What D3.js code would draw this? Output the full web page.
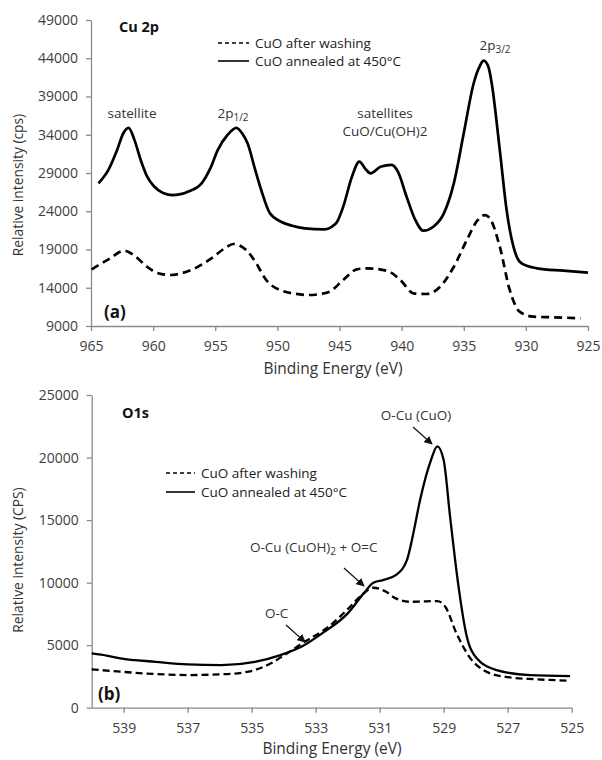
<!DOCTYPE html>
<html>
<head>
<meta charset="utf-8">
<script src="https://cdn.jsdelivr.net/npm/d3@7"></script>
<style>
  html, body { margin: 0; padding: 0; background: #fff; }
  svg { display: block; font-family: "Open Sans", "Noto Sans", sans-serif; }
</style>
</head>
<body>
<svg id="chart" width="602" height="760"></svg>
<script>
// ---------- Panel (a): Cu 2p ----------
const cu2pXTicks = [965, 960, 955, 950, 945, 940, 935, 930, 925];
const cu2pYTicks = [9000, 14000, 19000, 24000, 29000, 34000, 39000, 44000, 49000];

const cu2pAnnealedE = [964.4, 963.6, 962.9, 962.4, 961.97, 961.5, 961.0, 960.5, 959.9, 959.2, 958.4, 957.6, 957.2, 956.1, 955.4, 954.8, 954.0, 953.3, 952.8, 952.4, 951.8, 951.3, 950.6, 949.7, 948.8, 947.8, 946.2, 945.6, 945.2, 944.7, 944.0, 943.4, 942.9, 942.5, 941.7, 940.8, 940.3, 939.6, 938.9, 938.25, 937.45, 936.6, 935.8, 935.0, 934.2, 933.7, 933.4, 933.0, 932.75, 932.1, 931.55, 931.0, 930.5, 929.8, 929.1, 927.0, 925.0];
const cu2pAnnealedI = [27650, 29400, 32000, 34200, 34900, 33300, 30700, 28600, 27200, 26400, 26120, 26300, 26560, 27650, 29600, 32000, 34000, 34900, 34100, 32880, 29500, 26780, 23730, 22630, 22100, 21770, 21640, 22000, 22600, 24600, 28520, 30480, 29500, 28960, 29820, 30050, 29170, 25900, 22860, 21460, 21980, 23730, 27650, 34190, 40730, 43000, 43680, 42800, 40730, 32010, 24160, 19370, 17400, 16800, 16540, 16230, 15970];

const cu2pWashedE = [964.95, 963.6, 962.3, 961.5, 960.5, 959.6, 958.6, 957.7, 956.8, 955.2, 954.2, 953.55, 953.0, 952.5, 951.7, 950.9, 949.8, 948.2, 947.5, 946.5, 945.8, 944.7, 943.6, 942.8, 941.2, 940.1, 939.05, 938.0, 936.9, 935.8, 934.75, 933.9, 933.3, 932.9, 932.1, 931.3, 930.5, 929.4, 927.8, 925.6];
const cu2pWashedI = [16410, 17700, 18840, 18200, 16760, 15900, 15670, 15900, 16410, 17980, 19200, 19720, 19500, 18930, 17200, 15010, 13710, 13140, 13050, 13200, 13480, 15010, 16410, 16540, 16230, 15010, 13270, 13180, 14140, 16750, 20240, 22800, 23500, 23080, 19370, 13710, 10870, 10220, 10140, 10010];

// ---------- Panel (b): O 1s ----------
const o1sXTicks = [539, 537, 535, 533, 531, 529, 527, 525];
const o1sYTicks = [0, 5000, 10000, 15000, 20000, 25000];

const o1sAnnealedE = [540, 539.5, 539.1, 538, 537, 535.95, 534.9, 534.1, 533.45, 532.8, 532.0, 531.5, 531.2, 530.9, 530.5, 530.15, 529.95, 529.74, 529.4, 529.2, 529.0, 528.8, 528.55, 528.3, 527.97, 527.35, 526.3, 525.05];
const o1sAnnealedI = [4340, 4150, 3950, 3670, 3460, 3410, 3670, 4210, 4870, 5940, 7540, 9140, 9980, 10200, 10600, 11800, 13930, 16590, 19780, 20900, 19780, 15260, 9940, 5940, 3950, 3010, 2610, 2530];

const o1sWashedE = [540, 539.1, 538, 537, 535.95, 535.1, 534.4, 533.9, 533.35, 532.6, 532.03, 531.5, 531.2, 530.8, 530.5, 530.05, 529.6, 529.2, 528.95, 528.6, 528.2, 527.76, 527.1, 526.1, 525.05];
const o1sWashedI = [3070, 2880, 2690, 2610, 2670, 2880, 3550, 4340, 5270, 6470, 7800, 9140, 9590, 9270, 8740, 8470, 8500, 8520, 8070, 5940, 4070, 3010, 2480, 2270, 2160];

const legendLabels = ["CuO after washing", "CuO annealed at 450°C"];

// ---------- Drawing ----------
const svg = d3.select("#chart");
const tickColor = "#404040";
const axisColor = "#8a8a8a";

function zip(e, v) { return e.map((x, i) => ({ e: x, v: v[i] })); }

function drawPanel(cfg) {
  const x = d3.scaleLinear().domain(cfg.xDomain).range(cfg.xRange);
  const y = d3.scaleLinear().domain(cfg.yDomain).range(cfg.yRange);
  const g = svg.append("g");

  const yAxis = g.append("g")
    .attr("transform", `translate(${cfg.xRange[0]},0)`)
    .call(d3.axisLeft(y).tickValues(cfg.yTicks).tickSize(5).tickSizeOuter(0).tickPadding(8).tickFormat(d3.format("d")));
  const xAxis = g.append("g")
    .attr("transform", `translate(0,${cfg.yRange[0]})`)
    .call(d3.axisBottom(x).tickValues(cfg.xTicks).tickSize(5).tickSizeOuter(0).tickPadding(10).tickFormat(d3.format("d")));
  [yAxis, xAxis].forEach(a => {
    a.select(".domain").attr("stroke", axisColor).attr("stroke-width", 1.3);
    a.selectAll(".tick line").attr("stroke", axisColor).attr("stroke-width", 1.3);
    a.selectAll(".tick text").attr("fill", tickColor).attr("font-size", 14).attr("font-family", '"Open Sans", sans-serif');
  });

  const line = d3.line().x(d => x(d.e)).y(d => y(d.v)).curve(d3.curveMonotoneX);
  g.append("path").datum(zip(cfg.washE, cfg.washI))
    .attr("d", line).attr("fill", "none").attr("stroke", "#000")
    .attr("stroke-width", cfg.lw).attr("stroke-dasharray", cfg.dash).attr("stroke-linejoin", "round");
  g.append("path").datum(zip(cfg.annE, cfg.annI))
    .attr("d", line).attr("fill", "none").attr("stroke", "#000")
    .attr("stroke-width", cfg.lw).attr("stroke-linejoin", "round");

  // axis titles
  g.append("text").attr("x", cfg.xTitle[0]).attr("y", cfg.xTitle[1])
    .attr("text-anchor", "middle").attr("font-size", 15.5).attr("fill", "#333")
    .text("Binding Energy (eV)");
  g.append("text").attr("transform", `translate(${cfg.yTitle[0]},${cfg.yTitle[1]}) rotate(-90)`)
    .attr("text-anchor", "middle").attr("font-size", 13.8).attr("fill", "#333")
    .text(cfg.yTitleText);

  // panel title and letter
  g.append("text").attr("x", cfg.title[0]).attr("y", cfg.title[1]).attr("font-size", 14.5)
    .attr("font-weight", "bold").attr("fill", "#111").text(cfg.titleText);
  g.append("text").attr("x", cfg.letter[0]).attr("y", cfg.letter[1]).attr("font-size", 17)
    .attr("font-weight", "bold").attr("fill", "#111").text(cfg.letterText);

  // legend
  const L = cfg.legend;
  [0, 1].forEach(i => {
    const yy = L.y + i * L.dy;
    g.append("line").attr("x1", L.x).attr("x2", L.x + L.w).attr("y1", yy).attr("y2", yy)
      .attr("stroke", "#000").attr("stroke-width", 1.6)
      .attr("stroke-dasharray", i === 0 ? "4,3" : null);
    g.append("text").attr("x", L.x + L.w + 6).attr("y", yy + 5)
      .attr("font-size", 13.5).attr("fill", "#222").text(legendLabels[i]);
  });
  return { g, x, y };
}

function subText(g, xx, yy, main, sub, after, anchor) {
  const t = g.append("text").attr("x", xx).attr("y", yy).attr("font-size", 13.5)
    .attr("fill", "#333").attr("text-anchor", anchor || "middle");
  t.append("tspan").text(main);
  t.append("tspan").attr("font-size", 10).attr("dy", 3).text(sub);
  if (after) t.append("tspan").attr("dy", -3).text(after);
  return t;
}

function arrow(g, x1, y1, x2, y2) {
  g.append("line").attr("x1", x1).attr("y1", y1).attr("x2", x2).attr("y2", y2)
    .attr("stroke", "#111").attr("stroke-width", 1.2).attr("marker-end", "url(#arrowhead)");
}

svg.append("defs").append("marker").attr("id", "arrowhead")
  .attr("viewBox", "0 0 10 10").attr("refX", 9).attr("refY", 5)
  .attr("markerWidth", 7).attr("markerHeight", 7).attr("orient", "auto")
  .append("path").attr("d", "M0,0 L10,5 L0,10 z").attr("fill", "#111");

// Panel (a)
const pa = drawPanel({
  xDomain: [965, 925], xRange: [91, 588],
  yDomain: [9000, 49000], yRange: [326, 20],
  xTicks: cu2pXTicks, yTicks: cu2pYTicks,
  annE: cu2pAnnealedE, annI: cu2pAnnealedI, washE: cu2pWashedE, washI: cu2pWashedI,
  lw: 2.7, dash: "8,5",
  xTitle: [333, 374], yTitle: [23, 185], yTitleText: "Relative intensity (cps)",
  title: [119, 32], titleText: "Cu 2p", letter: [104, 318], letterText: "(a)",
  legend: { x: 218, y: 43, dy: 18, w: 31 }
});
pa.g.append("text").attr("x", 132).attr("y", 118).attr("text-anchor", "middle")
  .attr("font-size", 13.5).attr("fill", "#333").text("satellite");
subText(pa.g, 233, 118, "2p", "1/2");
pa.g.append("text").attr("x", 385).attr("y", 118).attr("text-anchor", "middle")
  .attr("font-size", 13.5).attr("fill", "#333").text("satellites");
pa.g.append("text").attr("x", 385).attr("y", 136).attr("text-anchor", "middle")
  .attr("font-size", 13.5).attr("fill", "#333").text("CuO/Cu(OH)2");
subText(pa.g, 495, 50, "2p", "3/2");

// Panel (b)
const pb = drawPanel({
  xDomain: [540, 525], xRange: [91.7, 571.7],
  yDomain: [0, 25000], yRange: [707.7, 395],
  xTicks: o1sXTicks, yTicks: o1sYTicks,
  annE: o1sAnnealedE, annI: o1sAnnealedI, washE: o1sWashedE, washI: o1sWashedI,
  lw: 2.3, dash: "7,4",
  xTitle: [332, 754], yTitle: [23, 560], yTitleText: "Relative intensity (CPS)",
  title: [122, 418], titleText: "O1s", letter: [98, 700], letterText: "(b)",
  legend: { x: 166, y: 473, dy: 19, w: 29 }
});
pb.g.append("text").attr("x", 416).attr("y", 420).attr("text-anchor", "middle")
  .attr("font-size", 13.5).attr("fill", "#333").text("O-Cu (CuO)");
arrow(pb.g, 413, 427, 432, 444);
subText(pb.g, 250, 552, "O-Cu (CuOH)", "2", " + O=C", "start");
arrow(pb.g, 344, 568, 364, 586);
pb.g.append("text").attr("x", 265).attr("y", 618).attr("font-size", 13.5)
  .attr("fill", "#333").text("O-C");
arrow(pb.g, 286, 625, 305, 642);
</script>
</body>
</html>
